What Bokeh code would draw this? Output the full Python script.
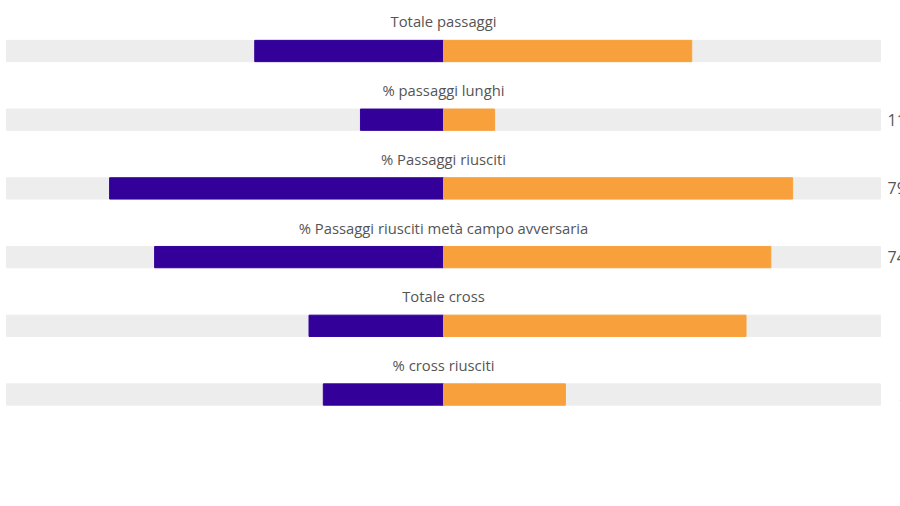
from bokeh.plotting import figure
from bokeh.models import Range1d, ColumnDataSource
from bokeh.core.properties import value
from bokeh.embed import file_html
from bokeh.resources import INLINE

# dati
categorie = ["Totale passaggi", "% passaggi lunghi", "% Passaggi riusciti",
             "% Passaggi riusciti metà campo avversaria", "Totale cross",
             "% cross riusciti"]
casa = [352, 19.0, 76.4, 66.1, 4, 27.5]
ospiti = [463, 11.7, 79.9, 74.9, 9, 27.9]
percentuale = [False, True, True, True, False, True]
etichette = ["", "11.7%", "79.9%", "74.9%", "", "27.9%"]

# lunghezze delle barre (percentuali o quota sul totale)
sx, dx = [], []
for c, o, p in zip(casa, ospiti, percentuale):
    if p:
        sx.append(c)
        dx.append(o)
    else:
        sx.append(c / (c + o) * 100)
        dx.append(o / (c + o) * 100)

righe = list(range(len(categorie)))

src = ColumnDataSource(dict(
    y=righe,
    left=[-v for v in sx],
    right=dx,
    title=categorie,
    ty=[r - 0.43 for r in righe],
))

p = figure(width=900, height=506, output_backend="svg", toolbar_location=None,
           x_range=Range1d(-101.37, 104.58), y_range=Range1d(6.63, -0.735),
           min_border=0)
p.axis.visible = False
p.grid.visible = False
p.outline_line_color = None

bh = 0.31
p.hbar(y="y", left=-100, right=100, height=bh, color="#ededed", source=src)
p.hbar(y="y", left="left", right=0, height=bh, color="#330099", source=src)
p.hbar(y="y", left=0, right="right", height=bh, color="#f8a13c", source=src)

p.text(x=0, y="ty", text="title", source=src, text_align="center",
       text_baseline="middle", text_font=value("Open Sans"),
       text_font_size="14.8px", text_color="#555555")

# valori a destra (tagliati dal bordo)
lx = [101.6 if i < 5 else 104.3 for i in righe]
p.text(x=lx, y=righe, text=etichette, text_align="left",
       text_baseline="middle", text_font=value("Open Sans"),
       text_font_size="16px", text_color="#555555")

open("out.html", "w").write(file_html(p, INLINE))
